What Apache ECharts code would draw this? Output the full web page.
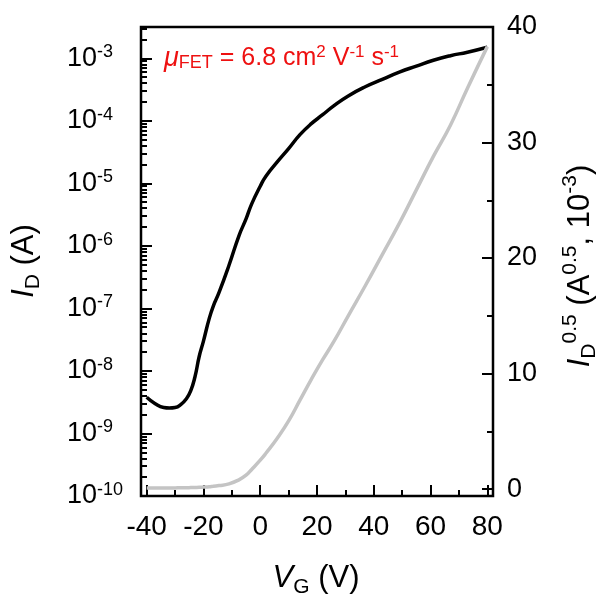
<!DOCTYPE html>
<html lang="en">
<head>
    <meta charset="UTF-8">
    <title>Transfer curve</title>
    <style>
        html, body { margin: 0; padding: 0; background: #fff; }
        #main { width: 608px; height: 610px; }
    </style>
</head>
<body>
<div id="main"></div>
<script src="https://cdn.jsdelivr.net/npm/echarts@6/dist/echarts.min.js"></script>
<script>
    const chart = echarts.init(document.getElementById('main'));

    // gate voltage (V)
    const vg = [-40, -37, -34, -32, -30, -28, -26, -24.5, -23, -21.5, -20, -18, -16.5, -14.5, -11, -7.5, -5, -3,
        0, 2, 6, 10, 14, 18, 22, 26, 31, 37, 43, 49, 55, 61, 67, 73, 80];
    // drain current I_D (A), log axis
    const idLog = [3.8e-9, 3.0e-9, 2.6e-9, 2.55e-9, 2.6e-9, 2.9e-9, 3.6e-9, 4.8e-9, 8.0e-9, 1.7e-8, 3.0e-8, 6.8e-8, 1.1e-7, 1.8e-7, 4.9e-7, 1.45e-6, 2.7e-6, 4.7e-6,
        9.0e-6, 1.3e-5, 2.2e-5, 3.6e-5, 6.0e-5, 9.0e-5, 1.25e-4, 1.75e-4, 2.5e-4, 3.5e-4, 4.6e-4, 6.0e-4, 7.5e-4, 9.3e-4, 1.1e-3, 1.25e-3, 1.5e-3];
    // I_D^0.5 (A^0.5, 10^-3), right axis
    const idSqrt = [0.1, 0.1, 0.1, 0.1, 0.1, 0.12, 0.12, 0.13, 0.14, 0.15, 0.17, 0.2, 0.25, 0.3, 0.45, 0.8, 1.2, 1.7,
        2.5, 3.1, 4.4, 5.9, 7.7, 9.5, 11.2, 12.8, 15.0, 17.6, 20.3, 23.0, 25.9, 28.8, 31.5, 34.7, 38.3];

    // tick positions
    const xMajor = [-40, -20, 0, 20, 40, 60, 80];
    const xMinor = [-30, -10, 10, 30, 50, 70];
    const logMajor = [1e-10, 1e-9, 1e-8, 1e-7, 1e-6, 1e-5, 1e-4, 1e-3];
    const logMinor = [];
    logMajor.forEach(d => { for (let k = 2; k <= 9; k++) logMinor.push(k * d); });
    const rMajor = [0, 10, 20, 30, 40];
    const rMinor = [5, 15, 25, 35];

    const ff = '"Liberation Sans", Arial, sans-serif';
    const tickStyle = { color: '#000', width: 2 };

    function xAxisOf(ticks, len, labels) {
        return {
            type: 'value', min: -42, max: 82, position: 'bottom',
            axisLine: { show: false, onZero: false }, splitLine: { show: false },
            axisTick: { customValues: ticks, inside: true, length: len, lineStyle: tickStyle },
            axisLabel: labels ? { customValues: ticks, fontSize: 28, fontFamily: ff, color: '#000', margin: 17 } : { show: false }
        };
    }
    function logAxisOf(ticks, len, labels) {
        return {
            type: 'log', logBase: 10, min: 1e-10, max: Math.pow(10, -2.5), position: 'left',
            axisLine: { show: false, onZero: false }, splitLine: { show: false },
            axisTick: { customValues: ticks, inside: true, length: len, lineStyle: tickStyle },
            axisLabel: labels ? {
                customValues: ticks, align: 'left', margin: 74,
                formatter: v => '{b|10}{s|' + Math.round(Math.log10(v)) + '}',
                rich: {
                    b: { fontSize: 27, lineHeight: 30, fontFamily: ff, color: '#000' },
                    s: { fontSize: 18, lineHeight: 16, verticalAlign: 'top', fontFamily: ff, color: '#000' }
                }
            } : { show: false }
        };
    }
    function rightAxisOf(ticks, len, labels) {
        return {
            type: 'value', min: -0.6, max: 40, position: 'right',
            axisLine: { show: false, onZero: false }, splitLine: { show: false },
            axisTick: { customValues: ticks, inside: true, length: len, lineStyle: tickStyle },
            axisLabel: labels ? { customValues: ticks, fontSize: 27, fontFamily: ff, color: '#000', margin: 14 } : { show: false }
        };
    }

    const titleRich = {
        t: { fontSize: 31, fontFamily: ff, fill: '#000', lineHeight: 40 },
        it: { fontSize: 31, fontFamily: ff, fontStyle: 'italic', fill: '#000', lineHeight: 40 },
        sub: { fontSize: 21, fontFamily: ff, fill: '#000', verticalAlign: 'bottom', lineHeight: 6 },
        sup: { fontSize: 21, fontFamily: ff, fill: '#000', verticalAlign: 'top', lineHeight: 20 }
    };
    const red = '#ee1111';

    const option = {
        animation: false,
        grid: { left: 141, right: 115, top: 27, bottom: 114, show: true, borderColor: '#000', borderWidth: 2.5, backgroundColor: 'transparent' },
        xAxis: [xAxisOf(xMajor, 11, true), xAxisOf(xMinor, 6, false)],
        yAxis: [logAxisOf(logMajor, 11, true), logAxisOf(logMinor, 6, false), rightAxisOf(rMajor, 11, true), rightAxisOf(rMinor, 6, false)],
        series: [
            {
                type: 'line', xAxisIndex: 0, yAxisIndex: 0, smooth: true, showSymbol: false,
                lineStyle: { color: '#000', width: 3.5 },
                data: vg.map((v, i) => [v, idLog[i]])
            },
            {
                type: 'line', xAxisIndex: 0, yAxisIndex: 2, smooth: true, showSymbol: false,
                lineStyle: { color: '#c4c4c4', width: 3.5 },
                data: vg.map((v, i) => [v, idSqrt[i]])
            }
        ],
        graphic: [
            {
                type: 'text', x: 316, y: 578,
                style: { text: '{it|V}{sub|G}{t| (V)}', align: 'center', verticalAlign: 'middle', rich: titleRich }
            },
            {
                type: 'text', x: 24, y: 261, rotation: Math.PI / 2,
                style: { text: '{it|I}{sub|D}{t| (A)}', align: 'center', verticalAlign: 'middle', rich: titleRich }
            },
            {
                type: 'text', x: 580, y: 266, rotation: Math.PI / 2,
                style: { text: '{it|I}{sub|D}{sup|0.5}{t| (A}{sup|0.5}{t|, 10}{sup|-3}{t|)}', align: 'center', verticalAlign: 'middle', rich: titleRich }
            },
            {
                type: 'text', x: 164, y: 58,
                style: {
                    text: '{mu|μ}{sub|FET}{t| = 6.8 cm}{sup|2}{t| V}{sup|-1}{t| s}{sup|-1}', align: 'left', verticalAlign: 'middle',
                    rich: {
                        mu: { fontSize: 27, fontFamily: ff, fontStyle: 'italic', fill: red, lineHeight: 28 },
                        t: { fontSize: 25, fontFamily: ff, fill: red, lineHeight: 28 },
                        sub: { fontSize: 18, fontFamily: ff, fill: red, verticalAlign: 'bottom', lineHeight: 8 },
                        sup: { fontSize: 17, fontFamily: ff, fill: red, verticalAlign: 'top', lineHeight: 10 }
                    }
                }
            }
        ]
    };

    chart.setOption(option);
</script>
</body>
</html>
